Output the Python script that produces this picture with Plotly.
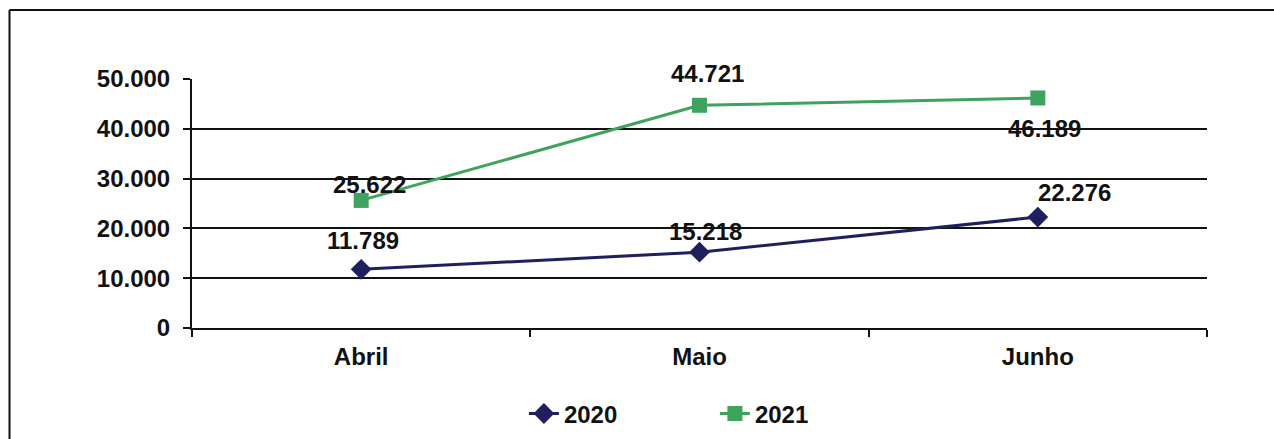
import plotly.graph_objects as go

# Data
months = ["Abril", "Maio", "Junho"]
values_2020 = [11789, 15218, 22276]
values_2021 = [25622, 44721, 46189]
y_ticks = [0, 10000, 20000, 30000, 40000, 50000]

NAVY = "#1f1f5e"
GREEN = "#3da35d"
INK = "#111111"
FONT = "Liberation Sans, Arial, sans-serif"
TXT = dict(family=FONT, size=24, color=INK, weight="bold")


def fmt(v):
    return f"{v:,}".replace(",", ".")


fig = go.Figure()
fig.add_trace(go.Scatter(
    x=months, y=values_2020, name="2020", mode="lines+markers",
    line=dict(color=NAVY, width=3),
    marker=dict(symbol="diamond", size=16, color=NAVY),
))
fig.add_trace(go.Scatter(
    x=months, y=values_2021, name="2021", mode="lines+markers",
    line=dict(color=GREEN, width=3),
    marker=dict(symbol="square", size=15, color=GREEN),
))

# value labels (pixel offsets from each point)
label_shift_2020 = [(2, 29), (6, 21), (37, 25)]
label_shift_2021 = [(8, 16), (8, 32), (7, -31)]
annotations = []
for vals, shifts in ((values_2020, label_shift_2020), (values_2021, label_shift_2021)):
    for m, v, (dx, dy) in zip(months, vals, shifts):
        annotations.append(dict(
            x=m, y=v, xref="x", yref="y", text=fmt(v), showarrow=False,
            xshift=dx, yshift=dy, font=TXT,
        ))

# outer frame: left edge and top edge
shapes = [
    dict(type="line", xref="paper", yref="paper",
         x0=-0.1798, x1=-0.1798, y0=-0.5, y1=1.277,
         line=dict(color=INK, width=2)),
    dict(type="line", xref="paper", yref="paper",
         x0=-0.1798, x1=1.1, y0=1.277, y1=1.277,
         line=dict(color=INK, width=2)),
]

fig.update_layout(
    width=1274, height=439,
    margin=dict(l=192, r=67, t=79, b=111, autoexpand=False),
    paper_bgcolor="white", plot_bgcolor="white",
    separators=",.",
    font=TXT,
    showlegend=True,
    legend=dict(
        orientation="h", x=0.327, xanchor="left", y=-0.345, yanchor="middle",
        font=TXT, entrywidth=146, entrywidthmode="pixels", tracegroupgap=0,
    ),
    annotations=annotations,
    shapes=shapes,
)
fig.update_xaxes(
    range=[-0.5, 2.5], showgrid=False, showline=True, linecolor=INK,
    linewidth=2, ticks="outside", tickson="boundaries", ticklen=7,
    tickwidth=2, tickcolor=INK, tickfont=TXT, automargin=False,
    ticklabelstandoff=6,
)
fig.update_yaxes(
    range=[0, 50000], tickvals=y_ticks, ticktext=[fmt(v) for v in y_ticks],
    showgrid=True, gridcolor=INK, gridwidth=2, zeroline=False,
    showline=True, linecolor=INK, linewidth=2, ticks="outside",
    ticklen=7, tickwidth=2, tickcolor=INK, ticklabelstandoff=8,
    tickfont=TXT, automargin=False,
)

fig.write_html("out.html")
